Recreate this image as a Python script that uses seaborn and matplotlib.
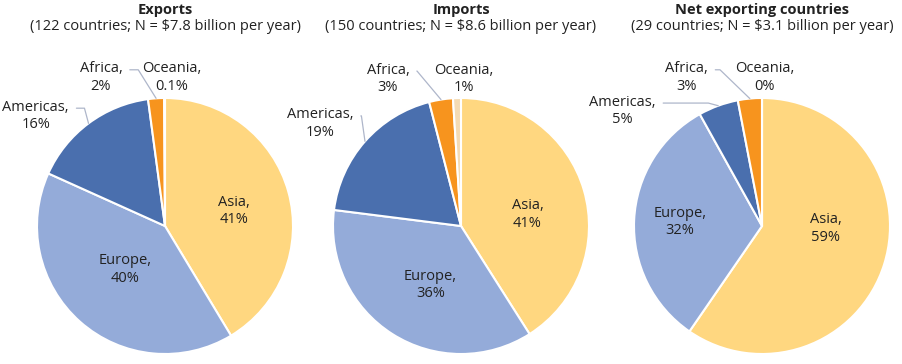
import matplotlib
matplotlib.use("Agg")
import matplotlib.pyplot as plt
import numpy as np
import seaborn as sns

sns.set_theme(style="white")
plt.rcParams['font.family'] = ['Open Sans', 'DejaVu Sans']

regions = ['Asia', 'Europe', 'Americas', 'Africa', 'Oceania']
colors = ['#FFD780', '#94ABD9', '#4A6FAE', '#F7941E', '#F4DBB3']

titles = ['Exports', 'Imports', 'Net exporting countries']
subtitles = ['(122 countries; N = $7.8 billion per year)',
             '(150 countries; N = $8.6 billion per year)',
             '(29 countries; N = $3.1 billion per year)']

exports_share = [41, 40, 16, 2, 0.1]
imports_share = [41, 36, 19, 3, 1]
net_share = [59, 32, 5, 3, 0]
shares = [exports_share, imports_share, net_share]

exports_labels = ['41%', '40%', '16%', '2%', '0.1%']
imports_labels = ['41%', '36%', '19%', '3%', '1%']
net_labels = ['59%', '32%', '5%', '3%', '0%']
pct_labels = [exports_labels, imports_labels, net_labels]

# pie centres in pixels (x from left, y from top) and radius
W, H = 902, 364
centres = [(165, 226), (461, 226), (762, 226)]
R = 128

# label positions relative to pie centre, in radius units
label_pos = [
    [(0.54, 0.12), (-0.31, -0.34), (-1.01, 0.86), (-0.50, 1.16), (0.05, 1.16)],
    [(0.52, 0.09), (-0.24, -0.46), (-1.10, 0.80), (-0.57, 1.15), (0.02, 1.15)],
    [(0.50, -0.02), (-0.64, 0.03), (-1.09, 0.90), (-0.59, 1.16), (0.02, 1.16)],
]
# leader line angle at the wedge end (None = no leader)
leader_angle = [
    [None, None, 105, 122, None],
    [None, None, 98, 130, None],
    [None, None, 165, 136, None],
]

fig = plt.figure(figsize=(W / 100, H / 100), dpi=100)

half = 150
for k in range(3):
    cx, cy = centres[k]
    ax = fig.add_axes([(cx - half) / W, (H - cy - half) / H, 2 * half / W, 2 * half / H])
    vals = np.array(shares[k], dtype=float)
    wedges, _ = ax.pie(vals, colors=colors, startangle=90, counterclock=False,
                       radius=1.0, wedgeprops=dict(edgecolor='white', linewidth=1.5))
    lim = half / R
    ax.set_xlim(-lim, lim)
    ax.set_ylim(-lim, lim)
    ax.set_aspect('equal')
    ax.axis('off')

    for i, w in enumerate(wedges):
        tx, ty = label_pos[k][i]
        txt = f'{regions[i]},\n{pct_labels[k][i]}'
        angB = leader_angle[k][i]
        if angB is not None:
            mid = np.deg2rad((w.theta1 + w.theta2) / 2)
            ex, ey = np.cos(mid), np.sin(mid)
            ax.annotate(txt, xy=(ex, ey), xytext=(tx, ty), ha='center', va='center',
                        fontsize=10.5, color='#222222', linespacing=1.2,
                        arrowprops=dict(arrowstyle='-', color='#AEB6CA', lw=0.9,
                                        relpos=(1.0, 0.74), shrinkA=3, shrinkB=0,
                                        connectionstyle=f'angle,angleA=0,angleB={angB},rad=0'))
        else:
            ax.text(tx, ty, txt, ha='center', va='center', fontsize=10.5,
                    color='#222222', linespacing=1.2)

    fig.text(cx / W, 1 - 10 / H, titles[k], ha='center', va='center',
             fontsize=10.5, fontweight='bold', color='#222222')
    fig.text(cx / W, 1 - 27 / H, subtitles[k], ha='center', va='center',
             fontsize=10.5, color='#222222')

fig.savefig('out.png', dpi=100)
